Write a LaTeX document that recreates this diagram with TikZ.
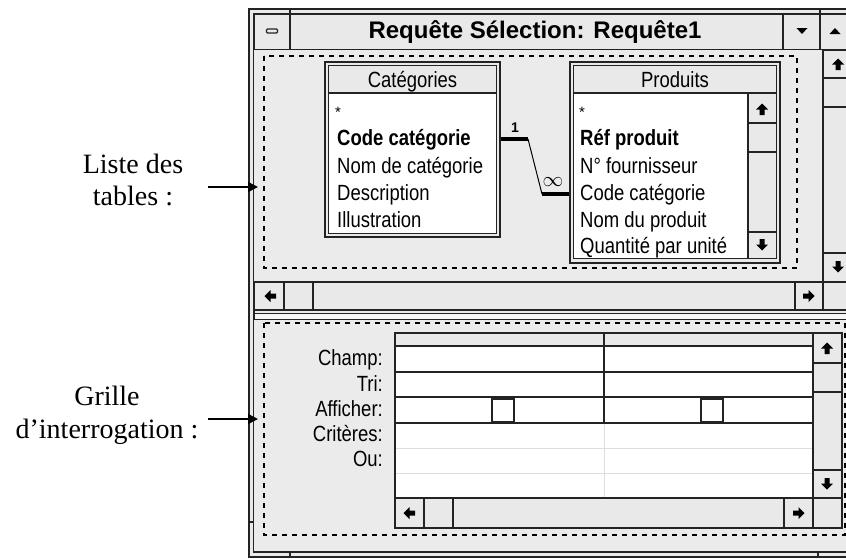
\documentclass[tikz,border=0pt]{standalone}
\usepackage{fontspec}
\usepackage{graphicx}
\setmainfont{Liberation Serif}
\newfontfamily\uifont{Liberation Sans}
\usetikzlibrary{arrows.meta}
\definecolor{panegray}{RGB}{235,235,235}
\definecolor{btngray}{RGB}{233,233,233}
\definecolor{frameline}{RGB}{35,35,35}
\definecolor{gridlight}{RGB}{222,222,222}
% narrow screen font used in the query window
\newcommand\nx[1]{\scalebox{0.84}[1]{#1}}
\tikzset{
  x=1pt, y=-1pt,
  btn/.style={fill=btngray, draw=frameline, line width=1.1},
  ui/.style={font=\uifont\fontsize{22}{26}\selectfont, inner sep=0},
  uib/.style={font=\uifont\bfseries\fontsize{22}{26}\selectfont, inner sep=0},
  lbl/.style={font=\fontsize{28}{32}\selectfont, inner sep=0},
  zone/.style={draw=black, line width=2, dash pattern=on 5pt off 5pt},
  pointer/.style={-{Triangle[length=10pt,width=10pt]}, line width=1.5},
  tbl/.style={draw=frameline, fill=btngray, line width=1.2, inner sep=0},
  thickrel/.style={line width=3.2},
  thinrel/.style={line width=1},
  pics/arrup/.style={code={\fill (-6,0.5) -- (0,-5.5) -- (6,0.5) -- (2.5,0.5) -- (2.5,6) -- (-2.5,6) -- (-2.5,0.5) -- cycle;}},
  pics/arrdown/.style={code={\fill (-6,-0.5) -- (0,5.5) -- (6,-0.5) -- (2.5,-0.5) -- (2.5,-6) -- (-2.5,-6) -- (-2.5,-0.5) -- cycle;}},
  pics/arrleft/.style={code={\fill (0.5,-6) -- (-5.5,0) -- (0.5,6) -- (0.5,2.5) -- (6,2.5) -- (6,-2.5) -- (0.5,-2.5) -- cycle;}},
  pics/arrright/.style={code={\fill (-0.5,-6) -- (5.5,0) -- (-0.5,6) -- (-0.5,2.5) -- (-6,2.5) -- (-6,-2.5) -- (-0.5,-2.5) -- cycle;}},
}
\begin{document}
\begin{tikzpicture}
\useasboundingbox (0,0) rectangle (846,558);
\fill[white] (0,0) rectangle (846,558);

% ---- window frame ----
\fill[btngray] (249,9) rectangle (870,557);
\draw[frameline, line width=1.2] (249,9) rectangle (870,557);
\draw[frameline, line width=1.2] (254,14) rectangle (870,552);
\draw[frameline, line width=1.2] (249,522) -- (254,522);
\draw[frameline, line width=1.2] (290,552) -- (290,557) (818,552) -- (818,557);

% ---- title bar ----
\draw[btn] (254,14) rectangle (870,50);
\draw[frameline, line width=1.2] (290,9) -- (290,50) (783,14) -- (783,50) (820,9) -- (820,50);
\node[font=\uifont\bfseries\fontsize{24}{28}\selectfont, inner sep=0, anchor=base] (title) at (535,38) {Requête Sélection: Requête1};
\draw[frameline, line width=1.3, rounded corners=1] (266.5,29) rectangle (277.5,33);
\fill[black] (796.5,28) -- (807.5,28) -- (802,34) -- cycle;
\fill[black] (829.5,34) -- (840.5,34) -- (835,28) -- cycle;

% ---- upper pane: table list ----
\fill[panegray] (254,50) rectangle (823,282);
\draw[btn] (823,50) rectangle (870,282);
\draw[btn] (823,50) rectangle (870,78);
\draw[btn] (823,78) rectangle (870,107);
\draw[btn] (823,253) rectangle (870,282);
\pic at (838,64) {arrup};
\pic at (838,267) {arrdown};
\draw[btn] (254,282) rectangle (823,310);
\draw[btn] (254,282) rectangle (284,310);
\draw[btn] (284,282) rectangle (313,310);
\draw[btn] (795,282) rectangle (823,310);
\draw[btn] (823,282) rectangle (870,310);
\pic at (270,296) {arrleft};
\pic at (809,296) {arrright};

% splitter bar
\draw[frameline, line width=1, fill=white!60!btngray] (254,313) rectangle (870,319);

% ---- lower pane: query grid ----
\fill[panegray] (254,319.5) rectangle (870,551.4);

% ---- dashed zones ----
\draw[zone] (264,56) rectangle (797,268);
\draw[zone] (264,323) rectangle (845,535);

% ---- table Catégories ----
\node[tbl, minimum width=175, minimum height=175] (cat) at (412.5,149.5) {};
\fill[white] (328.5,93) rectangle (496.5,233.5);
\draw[frameline, line width=1.1] (328.5,65.5) rectangle (496.5,233.5);
\draw[frameline, line width=1.1] (328.5,93) -- (496.5,93);
\node[ui, anchor=base] (cath) at (412.5,87) {\nx{Catégories}};
\node[font=\uifont\fontsize{15}{18}\selectfont, inner sep=0, anchor=base west] (catstar) at (335,117) {*};
\node[uib, anchor=base west] (cat1) at (337,145) {\nx{Code catégorie}};
\node[ui, anchor=base west] (cat2) at (337,173) {\nx{Nom de catégorie}};
\node[ui, anchor=base west] (cat3) at (337,200) {\nx{Description}};
\node[ui, anchor=base west] (cat4) at (337,227) {\nx{Illustration}};

% ---- table Produits ----
\node[tbl, minimum width=210, minimum height=201] (prod) at (675,162.5) {};
\fill[white] (573.5,93) rectangle (776.5,258.5);
\draw[frameline, line width=1.1] (573.5,65.5) rectangle (776.5,258.5);
\draw[frameline, line width=1.1] (573.5,93) -- (776.5,93);
\draw[btn] (748,93) rectangle (776.5,258.5);
\draw[btn] (748,93) rectangle (776.5,123);
\draw[btn] (748,123) rectangle (776.5,152);
\draw[btn] (748,232) rectangle (776.5,258.5);
\pic at (762,109) {arrup};
\pic at (762,245) {arrdown};
\node[ui, anchor=base] (prodh) at (675,87) {\nx{Produits}};
\node[font=\uifont\fontsize{15}{18}\selectfont, inner sep=0, anchor=base west] (prodstar) at (579,117) {*};
\node[uib, anchor=base west] (prod1) at (580,145) {\nx{Réf produit}};
\node[ui, anchor=base west] (prod2) at (580,173) {\nx{N° fournisseur}};
\node[ui, anchor=base west] (prod3) at (580,200) {\nx{Code catégorie}};
\node[ui, anchor=base west] (prod4) at (580,227) {\nx{Nom du produit}};
\node[ui, anchor=base west] (prod5) at (580,253) {\nx{Quantité par unité}};

% ---- relationship one-to-many ----
\coordinate (k1) at (528,139);
\coordinate (k2) at (542,194);
\draw[thickrel] (cat.east |- k1) -- (k1);
\draw[thinrel] (k1) -- (k2);
\draw[thickrel] (k2) -- (prod.west |- k2);
\node[font=\uifont\bfseries\fontsize{14}{16}\selectfont, inner sep=0, anchor=base] (one) at (515,132) {1};
\node[font=\bfseries\fontsize{20}{22}\selectfont, inner sep=0] (many) at (553,182) {$\infty$};

% ---- query grid ----
\fill[white] (395,346) rectangle (813,498);
\draw[btn] (395,333) rectangle (813,346);
\draw[gridlight, line width=1] (395,448) -- (813,448) (395,473) -- (813,473) (604,423) -- (604,498);
\draw[frameline, line width=1.1] (395,372) -- (813,372) (395,397) -- (813,397) (395,423) -- (813,423) (604,333) -- (604,423);
\draw[frameline, line width=1.1] (395,333) rectangle (813,498);
\draw[frameline, line width=2] (492,398.5) rectangle (514,422) (700.5,398.5) rectangle (722.5,422);
\draw[btn] (813,333) rectangle (842,498);
\draw[btn] (813,333) rectangle (842,363);
\draw[btn] (813,363) rectangle (842,392);
\draw[btn] (813,470) rectangle (842,498);
\pic at (827,348) {arrup};
\pic at (827,484) {arrdown};
\draw[btn] (395,498) rectangle (813,528);
\draw[btn] (395,498) rectangle (424,528);
\draw[btn] (424,498) rectangle (453,528);
\draw[btn] (784,498) rectangle (813,528);
\draw[btn] (813,498) rectangle (842,528);
\pic at (409,513) {arrleft};
\pic at (799,513) {arrright};
\node[ui, anchor=base east] (rowa) at (383,365) {\nx{Champ:}};
\node[ui, anchor=base east] (rowb) at (383,391) {\nx{Tri:}};
\node[ui, anchor=base east] (rowc) at (383,416) {\nx{Afficher:}};
\node[ui, anchor=base east] (rowd) at (383,441) {\nx{Critères:}};
\node[ui, anchor=base east] (rowe) at (383,466) {\nx{Ou:}};

% ---- callouts ----
\node[lbl, anchor=base] (lst1) at (133,173) {Liste des};
\node[lbl, anchor=base] (lst2) at (133,205) {tables :};
\node[lbl, anchor=base] (grl1) at (107,405) {Grille};
\node[lbl, anchor=base] (grl2) at (107,438) {d’interrogation :};
\coordinate (pa0) at (208,187);
\coordinate (pa1) at (258,187);
\coordinate (pb0) at (208,419);
\coordinate (pb1) at (258,419);
\draw[pointer] (pa0) -- (pa1);
\draw[pointer] (pb0) -- (pb1);
\end{tikzpicture}
\end{document}
